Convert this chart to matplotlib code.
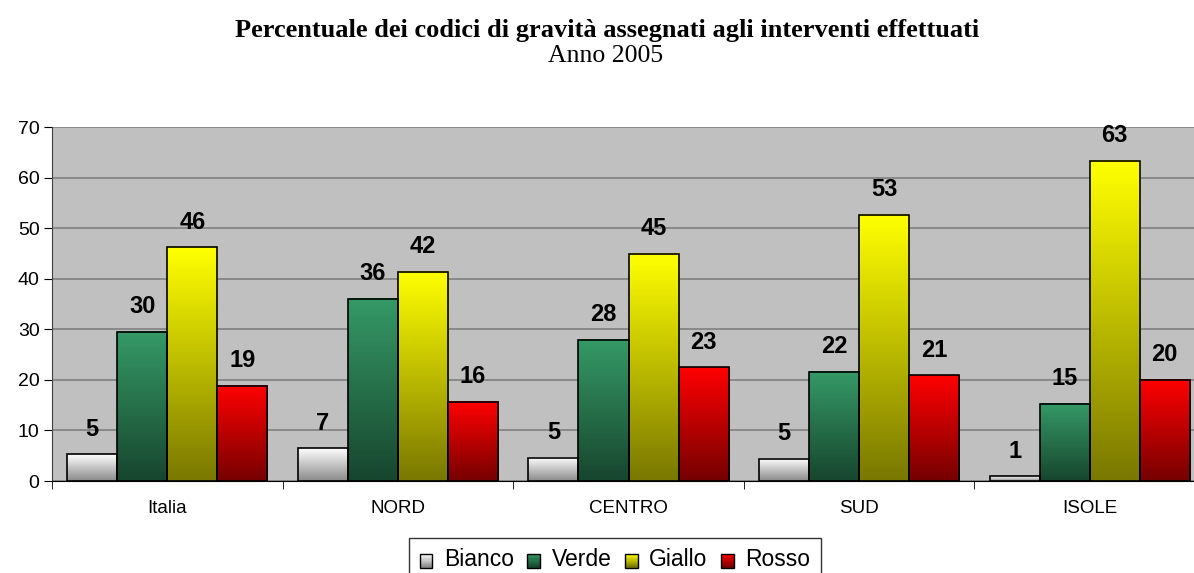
import numpy as np
import matplotlib
matplotlib.use('Agg')
from matplotlib import pyplot as plt
from matplotlib.patches import Rectangle
from matplotlib.legend_handler import HandlerBase

regioni = ['Italia', 'NORD', 'CENTRO', 'SUD', 'ISOLE']
codici = ['Bianco', 'Verde', 'Giallo', 'Rosso']
bianco = [5.3, 6.5, 4.6, 4.4, 0.9]
verde = [29.5, 36.0, 27.9, 21.6, 15.3]
giallo = [46.2, 41.4, 44.9, 52.6, 63.3]
rosso = [18.8, 15.7, 22.5, 20.9, 20.0]
etichette_bianco = ['5', '7', '5', '5', '1']
etichette_verde = ['30', '36', '28', '22', '15']
etichette_giallo = ['46', '42', '45', '53', '63']
etichette_rosso = ['19', '16', '23', '21', '20']

serie = [bianco, verde, giallo, rosso]
etichette = [etichette_bianco, etichette_verde, etichette_giallo, etichette_rosso]
# colore in alto, colore in basso
colori = [('#ffffff', '#8a8a8a'), ('#359966', '#17462e'),
          ('#ffff00', '#7a7800'), ('#ff0000', '#760000')]

plt.rcParams['font.family'] = ['Liberation Sans', 'DejaVu Sans']

def gradiente(top, bot, n=64):
    a = np.array(matplotlib.colors.to_rgb(top))
    b = np.array(matplotlib.colors.to_rgb(bot))
    t = np.linspace(0, 1, n)[:, None]
    return (a * (1 - t) + b * t)[:, None, :]

fig = plt.figure(figsize=(11.94, 5.73), dpi=100)
ax = fig.add_axes([52 / 1194, 1 - 481 / 573, 1153 / 1194, 354 / 573])
ax.set_facecolor('#c0c0c0')

w = 0.217
x = np.arange(len(regioni))
for i, vals in enumerate(serie):
    pos = x - 2 * w + i * w + w / 2
    bars = ax.bar(pos, vals, w, facecolor='none', edgecolor='black', linewidth=1.2, zorder=4)
    for b, v, lab in zip(bars, vals, etichette[i]):
        ax.imshow(gradiente(*colori[i]), extent=(b.get_x(), b.get_x() + w, 0, v),
                  aspect='auto', origin='upper', zorder=3, interpolation='bilinear')
        ax.annotate(lab, (b.get_x() + w / 2, v), xytext=(0, 18), textcoords='offset points',
                    ha='center', va='center', fontsize=17, fontweight='bold')

ax.set_xlim(-0.5, 4.5)
ax.set_ylim(0, 70)
ax.set_yticks(range(0, 71, 10))
ax.yaxis.grid(True, color='#808080', linewidth=1.2, zorder=0)
ax.set_axisbelow(True)
ax.set_xticks(x)
ax.set_xticklabels(regioni, fontsize=13.5)
ax.set_xticks(np.arange(-0.5, 5, 1), minor=True)
ax.tick_params(axis='x', which='major', length=0, pad=14)
ax.tick_params(axis='x', which='minor', length=6, direction='out', color='black')
ax.tick_params(axis='y', labelsize=14, length=6, direction='out', pad=3)
for s in ['top', 'right']:
    ax.spines[s].set_visible(False)
ax.spines['left'].set_color('#404040')
ax.spines['bottom'].set_color('black')

fig.text(607 / 1194, 1 - 31 / 573, 'Percentuale dei codici di gravità assegnati agli interventi effettuati',
         ha='center', va='center', fontsize=19, fontweight='bold', family='Liberation Serif')
fig.text(606 / 1194, 1 - 56 / 573, 'Anno 2005', ha='center', va='center', fontsize=18.5,
         family='Liberation Serif')


class Gradiente(HandlerBase):
    def create_artists(self, legend, orig, xd, yd, width, height, fontsize, trans):
        top, bot = orig.colori
        n = 12
        g = gradiente(top, bot, n)[:, 0, :]
        arts = []
        for k in range(n):
            y0 = yd + height * (1 - (k + 1) / n)
            arts.append(Rectangle((xd, y0), width, height / n,
                                  facecolor=g[k], edgecolor='none', transform=trans))
        arts.append(Rectangle((xd, yd), width, height, facecolor='none', edgecolor='black',
                              linewidth=1, transform=trans))
        return arts


handles = []
for c in colori:
    r = Rectangle((0, 0), 1, 1)
    r.colori = c
    handles.append(r)
leg = fig.legend(handles, codici, loc='upper center', bbox_to_anchor=(615 / 1194, 1 - 538 / 573),
                 ncol=4, frameon=True, fancybox=False, edgecolor='black', fontsize=16.5,
                 handlelength=0.55, handleheight=0.55, handletextpad=0.5, columnspacing=0.6,
                 borderpad=0.45, borderaxespad=0, handler_map={Rectangle: Gradiente()})
leg.get_frame().set_linewidth(1)

fig.savefig('out.png', dpi=100)
